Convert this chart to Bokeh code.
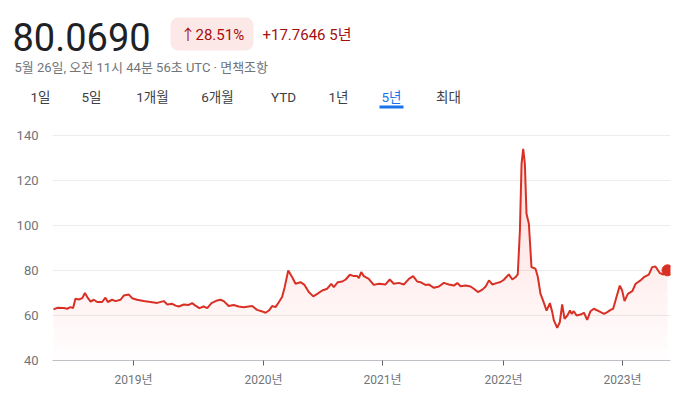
import numpy as np
from bokeh.plotting import figure
from bokeh.layouts import column
from bokeh.models import BoxAnnotation, FixedTicker, Range1d
from bokeh.core.properties import value
from bokeh.embed import file_html
from bokeh.resources import INLINE

# ---- data (x = weekly index over 5 years, y = price) ----
weeks = [0, 1.6, 4.4, 5.8, 7.2, 8.3, 9.3, 10.7, 12.2, 13.3, 14.3, 15.7, 17.1, 18.5, 20.6, 22.0, 23.0, 24.8, 26.3, 28.4,
         29.8, 31.9, 33.3, 35.4, 38.2, 41.1, 43.9, 46.7, 48.2, 50.3,
         51.7, 53.1, 55.2, 57.3, 58.7, 60.1, 61.8, 63.6, 65.1, 66.9, 69.3, 70.7, 72.1, 74.2, 76.3, 78.4, 80.5, 84.1, 86.2, 88.4,
         89.8, 91.2, 92.6, 94.0, 95.4, 96.8, 97.9, 99.4, 101.1, 102.5, 104.6,
         106.3, 108.1, 110.0, 111.7, 113.8, 115.9, 117.6, 118.7, 120.4, 122.3, 123.7, 125.5, 127.2, 128.6, 129.3, 130.3, 131.4,
         133.5, 135.6, 137.8, 140.6, 142.4, 144.1, 146.2, 148.4, 150.5, 152.3, 154.0, 155.4, 157.5,
         158.9, 161.1, 163.2, 165.3, 167.4, 169.5, 171.0, 172.4, 174.5, 176.6, 178.0, 179.7, 181.6, 183.0, 184.4, 185.8, 187.6,
         189.3, 190.7, 192.8, 194.3, 195.7, 196.6, 197.5, 198.2, 198.9, 199.6, 200.3, 201.3, 202.4, 204.1, 205.1, 206.2, 207.4, 208.8,
         210.2, 211.2, 211.9, 213.3, 214.4, 215.4, 216.4, 217.6, 218.7, 219.4, 220.3, 221.5, 223.2, 224.6, 226.0, 227.4, 228.8,
         230.9, 233.1, 234.5, 235.9, 237.0, 238.4, 239.8, 240.8, 241.8, 243.2, 245.1, 246.5, 248.6, 250.0, 252.1, 253.5, 254.9,
         256.8, 258.2, 260]
prices = [62.7, 63.4, 63.3, 63.0, 63.7, 63.3, 67.4, 67.1, 67.7, 70.0, 68.2, 66.2, 67.0, 66.0, 66.0, 67.9, 66.0, 67.0, 66.4, 67.0,
          68.9, 69.3, 67.7, 67.0, 66.4, 66.0, 65.6, 66.4, 64.9, 65.2,
          64.4, 64.0, 64.9, 64.7, 65.5, 64.4, 63.3, 64.0, 63.3, 65.5, 66.7, 67.0, 66.4, 64.2, 64.7, 64.0, 63.7, 64.2, 62.5, 61.8,
          61.2, 62.2, 64.2, 63.7, 65.9, 68.2, 72.6, 80.0, 77.0, 74.1, 74.8,
          73.6, 70.4, 68.5, 69.6, 71.1, 71.9, 74.1, 72.6, 74.8, 75.1, 76.0, 78.1, 77.5, 77.5, 76.6, 79.3, 77.5,
          76.3, 73.6, 74.1, 73.8, 76.0, 74.1, 74.5, 73.8, 76.3, 77.5, 75.1, 74.8, 73.6,
          73.8, 72.3, 72.9, 74.5, 73.8, 73.3, 74.4, 73.0, 73.3, 72.9, 71.9, 70.4, 71.5, 72.9, 75.6, 73.8, 74.4,
          74.9, 75.9, 78.3, 76.0, 77.1, 78.3, 97.8, 127.4, 134.1, 127.4, 105.2, 100.8, 81.5, 80.8, 77.1, 69.7, 66.4, 62.2,
          65.5, 61.5, 57.8, 54.5, 57.0, 64.9, 58.5, 60.0, 62.2, 60.7, 61.9, 60.0, 60.4, 61.2, 58.1, 61.9, 63.0,
          61.9, 60.7, 61.5, 62.5, 63.0, 68.2, 73.3, 71.1, 66.4, 69.6, 70.8, 74.1, 75.6, 77.0, 78.2, 81.5, 81.8,
          78.8, 78.2, 80.069]

tick_weeks = [33.9, 88.9, 139.3, 190.6, 241.0]
tick_labels = ["2019년", "2020년", "2021년", "2022년", "2023년"]
y_ticks = [40, 60, 80, 100, 120, 140]

price_text = "80.0690"
pct_text = "↑28.51%"
chg_text = "+17.7646 5년"
date_text = "5월 26일, 오전 11시 44분 56초 UTC · 면책조항"
tabs = ["1일", "5일", "1개월", "6개월", "YTD", "1년", "5년", "최대"]
active_tab = "5년"

RED = "#d93025"
FONT = "Roboto, 'Noto Sans CJK KR'"
W = 680
HH = 112          # header height
H = 397 - HH      # chart height

# ---------------- header figure (pixel-like coordinates, y downward) ----------------
hdr = figure(width=W, height=HH, output_backend="svg", toolbar_location=None,
             x_range=Range1d(0, W), y_range=Range1d(HH, 0),
             min_border=0, min_border_left=0, min_border_right=0, min_border_top=0, min_border_bottom=0,
             x_axis_type=None, y_axis_type=None)
hdr.frame_align = False
hdr.outline_line_color = None
hdr.grid.grid_line_color = None
hdr.background_fill_color = "white"
hdr.border_fill_color = "white"

def htext(x, y, t, size, color, align="left"):
    hdr.text(x=[x], y=[y], text=[t], text_font=value(FONT), text_font_size=size, text_color=color,
             text_align=align, text_baseline="middle")

hdr.add_layout(BoxAnnotation(left=170, right=253, top=17, bottom=50, fill_color="#fce8e6", fill_alpha=1,
                             line_color=None, border_radius=8, level="underlay"))
htext(12, 36, price_text, "38px", "#202124")
htext(180, 34, pct_text, "15px", "#a50e0e")
htext(262, 34, chg_text, "15px", "#a50e0e")
htext(14, 67, date_text, "13px", "#70757a")
tab_centers = [40, 91, 152, 217, 283, 338, 391, 448]
for t, x in zip(tabs, tab_centers):
    htext(x, 96, t, "13.5px", "#1a73e8" if t == active_tab else "#3c4043", align="center")
hdr.add_layout(BoxAnnotation(left=379, right=403, top=105, bottom=108, fill_color="#1a73e8", fill_alpha=1,
                             line_color=None, level="underlay"))

# ---------------- chart figure ----------------
FL, FR, FT, FB = 52, 670, 125 - HH, 360 - HH   # frame edges in this canvas
p = figure(width=W, height=H, output_backend="svg", toolbar_location=None,
           x_range=Range1d(-0.42, 261.27), y_range=Range1d(40, 144.44),
           min_border_left=FL, min_border_right=W - FR, min_border_top=FT, min_border_bottom=H - FB)
p.frame_align = False
p.outline_line_color = None
p.background_fill_color = "white"
p.border_fill_color = "white"

xs = np.array(weeks)
ys = np.array(prices)
for lvl in range(40, 140, 5):
    top = np.maximum(ys, lvl)
    p.varea(x=xs, y1=lvl, y2=top, fill_color="#e8453c", fill_alpha=0.011)

p.line(xs, ys, line_color=RED, line_width=2)
p.scatter([weeks[-1]], [prices[-1]], size=11, color=RED)

p.yaxis.ticker = FixedTicker(ticks=y_ticks)
p.yaxis.axis_line_color = None
p.yaxis.major_tick_line_color = None
p.yaxis.minor_tick_line_color = None
p.yaxis.major_label_text_color = "#70757a"
p.yaxis.major_label_text_font = FONT
p.yaxis.major_label_text_font_size = "13px"
p.yaxis.major_label_standoff = 8

p.xaxis.ticker = FixedTicker(ticks=tick_weeks)
p.xaxis.major_label_overrides = {t: l for t, l in zip(tick_weeks, tick_labels)}
p.xaxis.axis_line_color = "#bdc1c6"
p.xaxis.axis_line_width = 1
p.xaxis.major_tick_line_color = "#5f6368"
p.xaxis.major_tick_in = 0
p.xaxis.major_tick_out = 5
p.xaxis.minor_tick_line_color = None
p.xaxis.major_label_text_color = "#70757a"
p.xaxis.major_label_text_font = FONT
p.xaxis.major_label_text_font_size = "12px"
p.xaxis.major_label_standoff = 7

p.xgrid.grid_line_color = None
p.ygrid.grid_line_color = "#ececec"
p.ygrid.grid_line_width = 1

layout = column(hdr, p, spacing=0)
open("out.html", "w").write(file_html(layout, INLINE))
